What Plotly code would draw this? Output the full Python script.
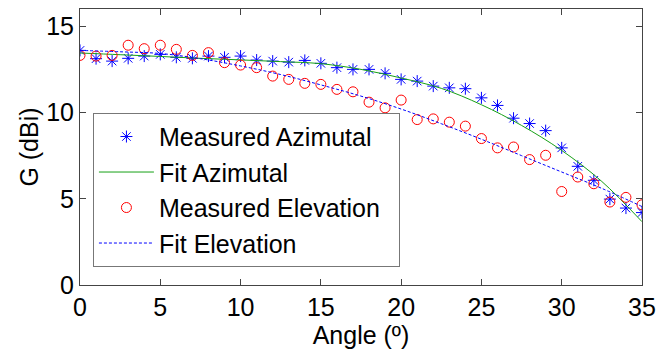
import plotly.graph_objects as go

angles = list(range(0, 36))
az_meas = [13.6, 13.12, 12.98, 13.14, 13.27, 13.37, 13.2, 13.14, 13.27, 13.2,
           13.27, 13.04, 12.98, 12.92, 13.02, 12.85, 12.6, 12.5, 12.5, 12.27,
           11.92, 11.82, 11.53, 11.43, 11.38, 10.85, 10.41, 9.67, 9.36, 8.95,
           7.95, 6.88, 6.07, 4.98, 4.46, 4.2]
el_meas = [13.31, 13.27, 13.31, 13.9, 13.7, 13.9, 13.66, 13.31, 13.47, 12.89,
           12.75, 12.6, 12.11, 11.92, 11.69, 11.63, 11.34, 11.2, 10.6, 10.27,
           10.72, 9.59, 9.63, 9.44, 9.21, 8.49, 7.95, 8.0, 7.27, 7.52,
           5.42, 6.26, 5.87, 4.81, 5.08, 4.65]

fit_x = [0, 2.5, 5, 7.5, 10, 12.5, 15, 17.5, 20, 22.5, 25, 27.5, 30, 32.5, 35]
az_fit = [13.45, 13.35, 13.25, 13.14, 13.05, 12.95, 12.83, 12.5, 12.0, 11.4,
          10.45, 9.25, 7.8, 6.0, 3.67]
el_fit = [13.6, 13.52, 13.42, 13.12, 12.7, 12.2, 11.6, 10.95, 10.2, 9.35,
          8.45, 7.5, 6.55, 5.6, 4.55]

fig = go.Figure()
fig.add_trace(go.Scatter(x=angles, y=az_meas, mode="markers", name="Measured Azimutal",
                         marker=dict(symbol="asterisk-open", size=10, color="blue",
                                     line=dict(color="blue", width=1))))
fig.add_trace(go.Scatter(x=fit_x, y=az_fit, mode="lines", name="Fit Azimutal",
                         line=dict(color="#16a016", width=1, shape="spline")))
fig.add_trace(go.Scatter(x=angles, y=el_meas, mode="markers",
                         name="Measured Elevation\u00a0\u00a0",
                         marker=dict(symbol="circle-open", size=10, color="red",
                                     line=dict(color="red", width=1))))
fig.add_trace(go.Scatter(x=fit_x, y=el_fit, mode="lines", name="Fit Elevation",
                         line=dict(color="blue", width=1, dash="3px,2px", shape="spline")))

axis_common = dict(showline=True, linecolor="#444", linewidth=1, mirror="ticks",
                   ticks="inside", ticklen=6, tickcolor="#444", showgrid=False,
                   zeroline=False, automargin=False, tickfont=dict(size=25, color="black"))
fig.update_xaxes(range=[0, 35], dtick=5, tick0=0,
                 title=dict(text="Angle (º)", font=dict(size=25, color="black"), standoff=2),
                 **axis_common)
fig.update_yaxes(range=[0, 16], tickvals=[0, 5, 10, 15],
                 title=dict(text="G (dBi)", font=dict(size=25, color="black"), standoff=0),
                 **axis_common)

fig.update_layout(
    width=657, height=349,
    margin=dict(l=80, r=15, t=9, b=64),
    paper_bgcolor="white", plot_bgcolor="white",
    font=dict(family="Liberation Sans, Arial, sans-serif", color="black"),
    legend=dict(x=0.023, y=0.624, xanchor="left", yanchor="top",
                bgcolor="white", bordercolor="#777", borderwidth=1,
                font=dict(size=25), itemwidth=55, tracegroupgap=0),
    showlegend=True,
)

fig.write_html("out.html")
